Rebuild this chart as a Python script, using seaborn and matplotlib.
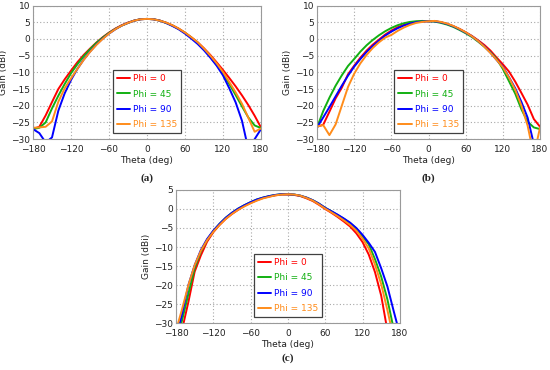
import pandas as pd
import matplotlib.pyplot as plt
import seaborn as sns

# Theta grid (deg) shared by all traces
theta = list(range(-180, 181, 10))
phi_labels = ["Phi = 0", "Phi = 45", "Phi = 90", "Phi = 135"]

# Panel (a) gain (dBi)
a_phi0 = [-27.0, -26.3, -22.9, -18.9, -15.0, -12.1, -9.5, -7.0, -4.8, -2.9, -1.1, 0.5, 1.9, 3.1, 4.1, 4.9, 5.5, 5.9, 6.0,
          5.9, 5.5, 4.9, 4.1, 3.1, 1.9, 0.5, -1.0, -2.8, -4.8, -7.0, -9.3, -11.7, -14.2, -16.9, -19.8, -23.0, -26.5]
a_phi45 = [-27.0, -26.6, -25.0, -20.8, -17.0, -13.5, -10.3, -7.6, -5.2, -3.1, -1.2, 0.4, 1.8, 3.0, 4.0, 4.8, 5.5, 5.9, 6.0,
           5.9, 5.5, 4.8, 4.0, 3.0, 1.8, 0.4, -1.2, -3.1, -5.3, -7.7, -10.4, -13.5, -16.8, -20.2, -23.5, -25.9, -26.7]
a_phi90 = [-27.0, -28.2, -31.0, -29.5, -21.5, -16.3, -12.3, -9.0, -6.2, -3.8, -1.7, 0.1, 1.6, 2.9, 4.0, 4.8, 5.5, 5.9, 6.0,
           5.9, 5.5, 4.8, 3.9, 2.9, 1.6, 0.1, -1.5, -3.4, -5.6, -8.0, -10.9, -14.8, -19.0, -24.5, -33.0, -30.0, -27.0]
a_phi135 = [-26.6, -26.5, -26.3, -24.7, -18.8, -14.8, -11.8, -9.0, -6.3, -3.9, -1.8, 0.0, 1.6, 2.9, 4.0, 4.8, 5.5, 5.9, 6.0,
            5.9, 5.5, 4.9, 4.1, 3.1, 1.9, 0.5, -1.0, -2.9, -5.0, -7.3, -9.9, -12.9, -16.0, -19.4, -23.6, -27.8, -26.8]

# Panel (b) gain (dBi)
b_phi0 = [-26.3, -25.7, -21.8, -17.8, -14.6, -10.6, -8.0, -5.6, -3.5, -1.7, -0.2, 1.3, 2.5, 3.5, 4.2, 4.7, 5.1, 5.3, 5.3,
          5.3, 5.0, 4.5, 3.8, 3.0, 2.0, 0.9, -0.4, -1.8, -3.5, -5.6, -7.6, -9.8, -12.8, -16.2, -19.7, -24.0, -26.3]
b_phi45 = [-26.5, -21.6, -17.6, -14.0, -10.9, -8.1, -6.0, -3.8, -1.9, -0.3, 1.1, 2.3, 3.3, 4.1, 4.7, 5.1, 5.3, 5.4, 5.3,
           5.2, 4.8, 4.3, 3.6, 2.7, 1.7, 0.6, -0.8, -2.3, -4.0, -6.0, -9.0, -12.7, -16.4, -21.1, -24.8, -26.5, -27.0]
b_phi90 = [-26.5, -23.5, -20.4, -17.2, -14.0, -11.0, -8.3, -6.0, -3.9, -2.1, -0.5, 1.0, 2.2, 3.2, 4.0, 4.6, 5.0, 5.2, 5.3,
           5.3, 5.0, 4.5, 3.8, 2.9, 1.9, 0.8, -0.6, -2.2, -4.1, -6.3, -8.3, -11.5, -14.8, -18.9, -23.6, -31.5, -36.0]
b_phi135 = [-26.2, -25.8, -28.8, -25.6, -20.0, -14.4, -10.4, -7.3, -4.8, -2.7, -1.0, 0.4, 1.2, 2.4, 3.4, 4.2, 4.8, 5.1, 5.3,
            5.4, 5.1, 4.6, 3.9, 3.0, 2.0, 0.8, -0.6, -2.3, -4.2, -6.3, -8.5, -11.6, -15.2, -20.0, -26.0, -35.0, -26.5]

# Panel (c) gain (dBi)
c_phi0 = [-40.0, -31.6, -24.4, -16.5, -12.2, -8.6, -6.1, -4.2, -2.6, -1.3, -0.2, 0.8, 1.6, 2.3, 2.9, 3.3, 3.6, 3.8, 3.8,
          3.7, 3.4, 2.8, 2.1, 1.1, 0.0, -1.0, -2.1, -3.3, -4.6, -6.4, -8.7, -12.0, -16.6, -22.8, -32.0, -45.0, -55.0]
c_phi45 = [-36.0, -29.1, -22.3, -15.6, -11.2, -8.1, -5.8, -3.9, -2.3, -1.0, 0.1, 1.0, 1.8, 2.5, 3.0, 3.4, 3.7, 3.9, 3.9,
           3.8, 3.5, 3.0, 2.3, 1.4, 0.3, -0.6, -1.6, -2.6, -3.7, -5.2, -7.2, -9.3, -13.2, -17.8, -23.8, -31.5, -42.0]
c_phi90 = [-34.0, -27.5, -20.0, -14.8, -10.8, -7.9, -5.7, -3.9, -2.3, -1.0, 0.1, 1.0, 1.8, 2.5, 3.0, 3.4, 3.7, 3.9, 3.9,
           3.8, 3.5, 3.0, 2.3, 1.4, 0.3, -0.6, -1.5, -2.5, -3.6, -5.0, -6.8, -8.9, -11.3, -15.6, -20.4, -26.8, -33.0]
c_phi135 = [-32.0, -26.2, -20.0, -14.8, -11.0, -8.2, -6.0, -4.2, -2.6, -1.3, -0.2, 0.7, 1.5, 2.2, 2.8, 3.2, 3.6, 3.8, 3.9,
            3.8, 3.5, 2.9, 2.2, 1.2, 0.1, -0.9, -1.9, -3.0, -4.2, -5.7, -7.8, -10.4, -14.6, -19.8, -26.6, -34.0, -45.0]

colors = {"Phi = 0": "#ff0000", "Phi = 45": "#12b012", "Phi = 90": "#0000ff", "Phi = 135": "#ff8c1a"}


def make_df(series):
    frames = []
    for label, gain in zip(phi_labels, series):
        frames.append(pd.DataFrame({"theta": theta, "gain": gain, "phi": label}))
    return pd.concat(frames, ignore_index=True)


sns.set_style("white")
plt.rcParams['font.family'] = ['DejaVu Sans']

fig = plt.figure(figsize=(5.5, 3.7), dpi=100)

panels = [
    ([a_phi0, a_phi45, a_phi90, a_phi135], [0.060, 0.624, 0.4145, 0.361], (-30, 10), "(a)", (0.268, 0.519)),
    ([b_phi0, b_phi45, b_phi90, b_phi135], [0.5764, 0.624, 0.4055, 0.361], (-30, 10), "(b)", (0.778, 0.519)),
    ([c_phi0, c_phi45, c_phi90, c_phi135], [0.320, 0.127, 0.407, 0.3595], (-30, 5), "(c)", (0.524, 0.032)),
]

for series, pos, ylim, tag, tagpos in panels:
    ax = fig.add_axes(pos)
    df = make_df(series)
    sns.lineplot(data=df, x="theta", y="gain", hue="phi", palette=colors,
                 estimator=None, sort=False, linewidth=1.4, ax=ax)
    ax.set_xlim(-180, 180)
    ax.set_ylim(*ylim)
    ax.set_xticks(range(-180, 181, 60))
    ax.set_yticks(range(ylim[0], ylim[1] + 1, 5))
    ax.grid(True, color="#a8a8a8", linestyle=(0, (1, 2)), linewidth=0.8)
    for sp in ax.spines.values():
        sp.set_color("#9a9a9a")
        sp.set_linewidth(0.8)
    ax.tick_params(length=0, labelsize=6.5, colors="#222222")
    ax.tick_params(axis="x", pad=4.5)
    ax.tick_params(axis="y", pad=2)
    ax.set_xlabel("Theta (deg)", fontsize=6.5, labelpad=1, color="#222222")
    ax.set_ylabel("Gain (dBi)", fontsize=6.5, labelpad=2, color="#222222")
    handles, labels = ax.get_legend_handles_labels()
    ax.legend(handles, labels, loc="lower center", bbox_to_anchor=(0.5, 0.01),
              fontsize=6.5, frameon=True, fancybox=False, edgecolor="#404040",
              framealpha=1, labelcolor="linecolor", handlelength=1.5,
              handletextpad=0.3, borderpad=0.45, labelspacing=0.7)
    ax.legend_.get_frame().set_linewidth(0.9)
    fig.text(tagpos[0], tagpos[1], tag, ha="center", va="center",
             fontsize=8, family="Liberation Serif", fontweight="bold")

fig.savefig("out.png", dpi=100)
